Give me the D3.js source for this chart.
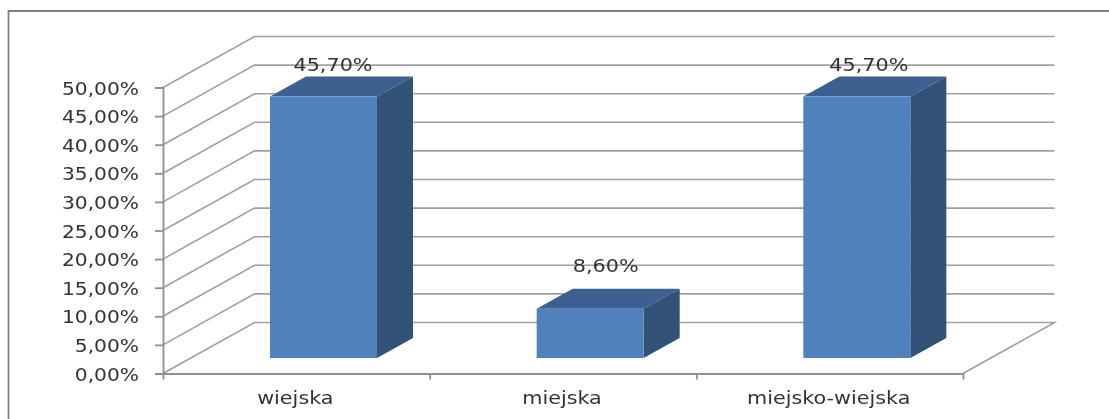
<!DOCTYPE html>
<html><head><meta charset="utf-8">
<script src="https://cdn.jsdelivr.net/npm/d3@7"></script>
<style>html,body{margin:0;padding:0;background:#fff}svg{display:block}
text{font-family:"DejaVu Sans",sans-serif;font-size:17px;fill:#333}</style>
</head><body><svg id="c" width="1109" height="419"></svg>
<script>
const categories = ["wiejska", "miejska", "miejsko-wiejska"];
const seriesValues = [45.7, 8.6, 45.7];
const valueLabels = ["45,70%", "8,60%", "45,70%"];
const yTicks = [0, 5, 10, 15, 20, 25, 30, 35, 40, 45, 50];

const W = 1109, H = 419;
const wallDx = 91.5, wallDy = -51;  // depth of the whole 3D box
const barFrontDy = -15.5;           // bar's front face inside the box
const barDx = 36, barDy = -20;      // depth of a bar
const barW = 107;
const textStretch = 1.22, tickStretch = 1.19;
const gridColor = "#a0a0a0", axisColor = "#8f8f8f";

const svg = d3.select("#c");
svg.append("defs").append("filter").attr("id", "soft")
  .append("feGaussianBlur").attr("stdDeviation", 0.5);

const x = d3.scaleBand().domain(categories).range([163, 963]);
const y = d3.scaleLinear().domain([0, 50]).range([373.5, 87.5]);
const fmt = v => d3.format(".2f")(v).replace(".", ",") + "%";

const root = svg.append("g").attr("filter", "url(#soft)");

// outer frame (open to the right and bottom of the picture)
root.append("path").attr("d", `M8.5,${H}V11H${W}`).attr("fill", "none")
  .attr("stroke", "#808080").attr("stroke-width", 1.8);

// gridlines: side wall + back wall
const grid = root.append("g").attr("fill", "none").attr("stroke", gridColor).attr("stroke-width", 1.6);
grid.selectAll("path").data(yTicks).join("path")
  .attr("d", t => t === 0
    ? `M163,${y(0)}L${163 + wallDx},${y(0) + wallDy}H${963 + wallDx}L963,${y(0)}`
    : `M163,${y(t)}L${163 + wallDx},${y(t) + wallDy}H${963 + wallDx}`);

// axes
const yAxis = root.append("g").attr("transform", "translate(163,0)")
  .call(d3.axisLeft(y).tickValues(yTicks).tickFormat(fmt).tickSizeOuter(0).tickSize(8));
yAxis.selectAll("path,line").attr("stroke", axisColor).attr("stroke-width", 1.8);
yAxis.selectAll("text").attr("x", 0).attr("dy", "0.36em")
  .attr("transform", `translate(-24,0.5) scale(${tickStretch},1)`)
  .style("font-size", "17px").style("font-family", '"DejaVu Sans",sans-serif');

const xAxis = root.append("g").attr("transform", `translate(0,${y(0)})`)
  .call(d3.axisBottom(d3.scaleLinear().domain([0, 3]).range([163, 963]))
    .tickValues([0, 1, 2, 3]).tickFormat("").tickSize(6).tickSizeOuter(0));
xAxis.selectAll("path,line").attr("stroke", axisColor).attr("stroke-width", 1.8);

root.append("g").selectAll("text").data(categories).join("text")
  .attr("text-anchor", "middle")
  .attr("transform", d => `translate(${x(d) + x.bandwidth() / 2 - 1},${y(0) + 30}) scale(${textStretch},1)`)
  .text(d => d);

// bars
const bars = root.append("g").selectAll("g")
  .data(categories.map((c, i) => ({ c, v: seriesValues[i], l: valueLabels[i], i }))).join("g");
const bx = d => x(d.c) + barW;
const by = v => y(v) + barFrontDy;

bars.append("path").attr("fill", "#3c6190") // top
  .attr("d", d => `M${bx(d)},${by(d.v)}l${barDx},${barDy}h${barW}l${-barDx},${-barDy}z`);
bars.append("path").attr("fill", "#325277") // side
  .attr("d", d => `M${bx(d) + barW},${by(d.v)}l${barDx},${barDy}V${by(0) + barDy}l${-barDx},${-barDy}z`);
bars.append("rect").attr("fill", "#4f81bd") // front
  .attr("x", bx).attr("y", d => by(d.v)).attr("width", barW).attr("height", d => by(0) - by(d.v));

// value labels: placement varies a little per bar, the short bar's label sits higher
const labelDx = [63, 69, 65.5];
bars.append("text").attr("text-anchor", "middle")
  .attr("transform", d => `translate(${bx(d) + labelDx[d.i]},${by(d.v) - (d.v < 10 ? 37 : 26)}) scale(${textStretch},1)`)
  .text(d => d.l);
</script></body></html>
